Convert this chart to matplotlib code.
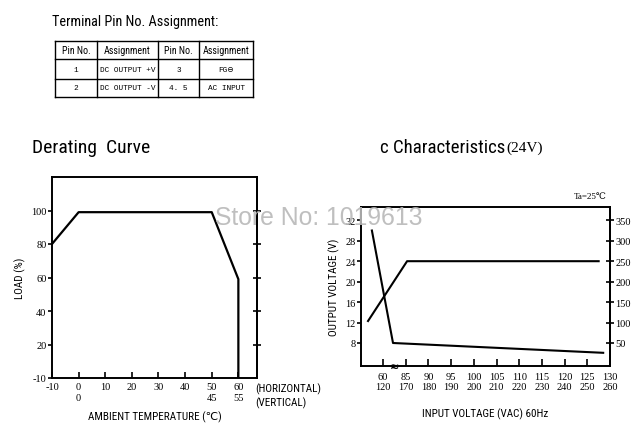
import numpy as np
import matplotlib
matplotlib.use('Agg')
import matplotlib.pyplot as plt

# tabla de pines
pin_header = ['Pin No.', 'Assignment', 'Pin No.', 'Assignment']
pin_rows = [['1', 'DC OUTPUT +V', '3', 'FG⊖'],
            ['2', 'DC OUTPUT -V', '4. 5', 'AC INPUT']]

# curva de derating (temperatura horizontal vs carga)
temp = [-10, 0, 50, 60, 60]
load = [80, 99, 99, 59, 0]
temp_ticks = [-10, 0, 10, 20, 30, 40, 50, 60]
temp_vert = ['', '0', '', '', '', '', '45', '55']
load_ticks = [0, 20, 40, 60, 80, 100]
load_labels = ['-10', '20', '40', '60', '80', '100']

# caracteristicas (24V), eje x por categorias
vin_top = ['60', '85', '90', '95', '100', '105', '110', '115', '120', '125', '130']
vin_bot = ['120', '170', '180', '190', '200', '210', '220', '230', '240', '250', '260']
vout_x = [-0.66, 1.06, 9.5]
vout_y = [12.3, 24, 24]
iin_x = [-0.49, 0.44, 9.7]
iin_y = [325, 50, 26]
volt_ticks = [8, 12, 16, 20, 24, 28, 32]
right_ticks = [50, 100, 150, 200, 250, 300, 350]

SANS = ['Roboto Condensed', 'Liberation Sans', 'DejaVu Sans']
SERIF = ['Liberation Serif', 'DejaVu Serif']
MONO = ['Liberation Mono', 'DejaVu Sans']

fig = plt.figure(figsize=(6.37, 4.35), dpi=100)

# capa de fondo en pixeles para la tabla y textos sueltos
bg = fig.add_axes([0, 0, 1, 1])
bg.set_xlim(0, 637)
bg.set_ylim(435, 0)
bg.axis('off')

bg.text(52, 22, 'Terminal Pin No. Assignment:', family=SANS, fontsize=10.3, va='center')
xs = [55, 97, 158, 199, 253]
ys = [42, 60, 80, 98]
for x in xs:
    bg.plot([x, x], [ys[0], ys[-1]], 'k', lw=1.0)
for y in ys:
    bg.plot([xs[0], xs[-1]], [y, y], 'k', lw=1.0)
for j, h in enumerate(pin_header):
    bg.text((xs[j] + xs[j+1]) / 2, (ys[0] + ys[1]) / 2, h, family=SANS, fontsize=7.2,
            ha='center', va='center')
for i, row in enumerate(pin_rows):
    for j, c in enumerate(row):
        bg.text((xs[j] + xs[j+1]) / 2, (ys[i+1] + ys[i+2]) / 2, c, family=MONO, fontsize=5.6,
                ha='center', va='center')

bg.text(32, 148, 'Derating  Curve', family=SANS, fontsize=14, va='center')
bg.text(380, 148, 'c Characteristics', family=SANS, fontsize=13.6, va='center')
bg.text(506, 148, '(24V)', family=SERIF, fontsize=11, va='center')

# ---------------- derating ----------------
ax1 = fig.add_axes([52/637, 1-379/435, 205/637, 201/435])
ax1.plot(temp, load, 'k', lw=1.6)
ax1.set_xlim(-10, 67)
ax1.set_ylim(0, 120)
ax1.set_xticks(temp_ticks)
ax1.set_xticklabels([str(t) + '\n' + v for t, v in zip(temp_ticks, temp_vert)],
                    family=SERIF, fontsize=7.5, linespacing=1.25)
ax1.set_yticks(load_ticks)
ax1.set_yticklabels(load_labels, family=SERIF, fontsize=7.5)
ax1.tick_params(axis='x', direction='in', length=4, width=1.2, top=False, pad=3)
ax1.tick_params(axis='y', direction='out', length=3, width=1.2, pad=1)
for s in ax1.spines.values():
    s.set_linewidth(1.4)
r1 = ax1.secondary_yaxis('right')
r1.set_yticks(load_ticks[1:])
r1.set_yticklabels([])
r1.tick_params(direction='inout', length=6, width=1.2)
r1.spines['right'].set_linewidth(1.4)
ax1.set_ylabel('LOAD (%)', family=SANS, fontsize=8, labelpad=4)
ax1.set_xlabel('AMBIENT TEMPERATURE (℃)', family=SANS, fontsize=8, labelpad=6)
bg.text(255, 389, '(HORIZONTAL)', family=SANS, fontsize=8, va='center')
bg.text(255, 403, '(VERTICAL)', family=SANS, fontsize=8, va='center')

# ---------------- caracteristicas ----------------
ax2 = fig.add_axes([361/637, 1-367/435, 249/637, 159/435])
idx = np.arange(len(vin_top))
ax2.plot(vout_x, vout_y, 'k', lw=1.5)
ax2.plot(iin_x, [(v + 50) / 12.5 for v in iin_y], 'k', lw=1.5)
ax2.set_xlim(-0.97, 10)
ax2.set_ylim(3.5, 34.6)
ax2.set_xticks(idx)
ax2.set_xticklabels([a + '\n' + b for a, b in zip(vin_top, vin_bot)],
                    family=SERIF, fontsize=7.5, linespacing=1.25)
ax2.set_yticks(volt_ticks)
ax2.set_yticklabels([str(v) for v in volt_ticks], family=SERIF, fontsize=7.5)
ax2.tick_params(axis='x', direction='in', length=5, width=1.2, top=False, pad=4)
ax2.tick_params(axis='y', direction='out', length=3, width=1.2, pad=1)
for s in ax2.spines.values():
    s.set_linewidth(1.4)
r2 = ax2.secondary_yaxis('right', functions=(lambda v: 12.5 * v - 50, lambda r: (r + 50) / 12.5))
r2.set_yticks(right_ticks)
r2.set_yticklabels([str(v) for v in right_ticks], family=SERIF, fontsize=7.5)
r2.tick_params(direction='inout', length=6, width=1.2, pad=1)
r2.spines['right'].set_linewidth(1.4)
ax2.text(0.5, 3.5, '≈', fontsize=8, ha='center', va='center', fontweight='bold')
ax2.set_ylabel('OUTPUT VOLTAGE (V)', family=SANS, fontsize=8, labelpad=4)
ax2.set_xlabel('INPUT VOLTAGE (VAC) 60Hz', family=SANS, fontsize=8, labelpad=12)
bg.text(590, 197, 'Ta=25℃', family=SERIF + ['DejaVu Sans'], fontsize=6.5, ha='center', va='center')

# marca de agua (encima de todo)
fig.text(215/637, 1-218/435, 'Store No: 1019613', family=['Liberation Sans', 'DejaVu Sans'],
         fontsize=17.8, color='#b8b8b8', va='center', zorder=10, alpha=0.9)

fig.savefig('out.png', dpi=100)
